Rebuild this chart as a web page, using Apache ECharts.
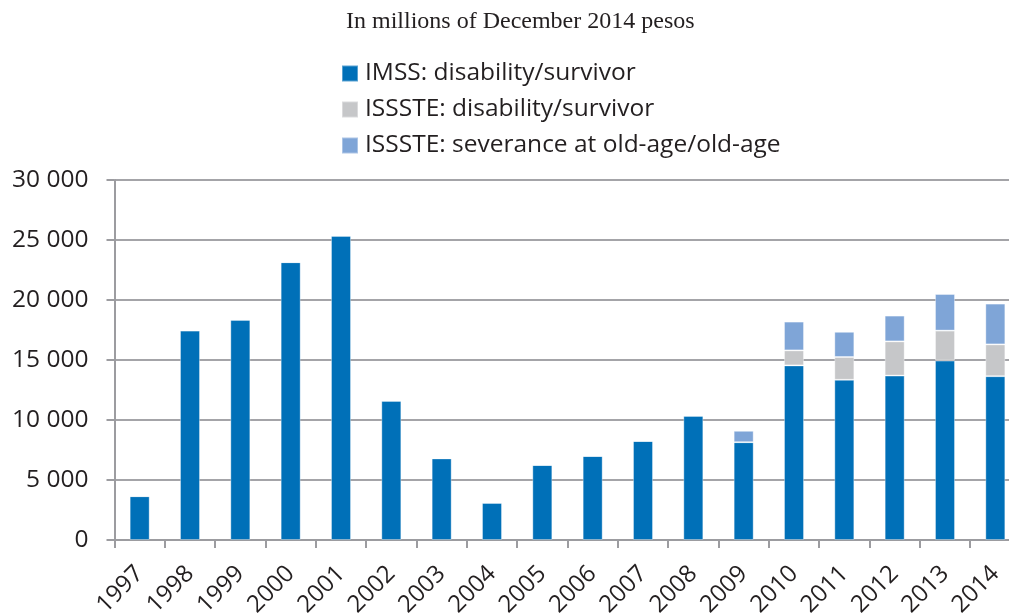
<!DOCTYPE html>
<html>
<head>
<meta charset="utf-8">
<script src="https://cdn.jsdelivr.net/npm/echarts@6/dist/echarts.min.js"></script>
<style>html,body{margin:0;padding:0;background:#fff}#c{width:1009px;height:615px}</style>
</head>
<body>
<div id="c"></div>
<script>
const years = ['1997','1998','1999','2000','2001','2002','2003','2004','2005','2006','2007','2008','2009','2010','2011','2012','2013','2014'];
const imssDisability = [3650,17450,18350,23150,25350,11600,6800,3100,6250,7000,8250,10350,8150,14550,13350,13700,14950,13650];
const isssteDisability = [0,0,0,0,0,0,0,0,0,0,0,0,0,1250,1900,2850,2500,2650];
const isssteSeverance = [0,0,0,0,0,0,0,0,0,0,0,0,950,2400,2100,2150,3050,3400];
const seriesNames = ['IMSS: disability/survivor','ISSSTE: disability/survivor','ISSSTE: severance at old-age/old-age'];
const titleText = 'In millions of December 2014 pesos';

const chart = echarts.init(document.getElementById('c'), null, {renderer:'canvas'});
const fmt = v => { const s = String(v); return s.length > 3 ? s.slice(0, s.length-3) + ' ' + s.slice(-3) : s; };
const barStyle = c => ({color:c, borderColor:'rgba(255,255,255,0.35)', borderWidth:1});
chart.setOption({
  animation:false,
  title:{text:titleText, left:346, top:10, padding:0,
    textStyle:{fontFamily:'Liberation Serif', fontSize:24, fontWeight:'normal', color:'#231f20'}},
  legend:{orient:'vertical', left:341, top:61, padding:0, itemWidth:16, itemHeight:16, itemGap:11,
    icon:'rect', textStyle:{fontFamily:'Open Sans', fontSize:24.5, color:'#231f20', padding:[0,0,0,2]},
    data:seriesNames},
  grid:{left:114.5, top:180, width:906, height:360, containLabel:false, outerBoundsMode:'none'},
  xAxis:{type:'category', data:years,
    axisLine:{lineStyle:{color:'#9c9ca0', width:2}},
    axisTick:{show:true, length:8, lineStyle:{color:'#9c9ca0', width:2}},
    axisLabel:{rotate:45, margin:30, fontFamily:'Open Sans', fontSize:24, color:'#231f20', interval:0}},
  yAxis:{type:'value', min:0, max:30000, interval:5000,
    axisLine:{show:true, lineStyle:{color:'#9c9ca0', width:2}},
    axisTick:{show:true, length:8, lineStyle:{color:'#9c9ca0', width:2}},
    splitLine:{lineStyle:{color:'#a4a4a8', width:2}},
    axisLabel:{formatter:fmt, margin:26, fontFamily:'Open Sans', fontSize:24.5, color:'#231f20'}},
  series:[
    {name:seriesNames[0], type:'bar', stack:'a', barWidth:20, data:imssDisability, itemStyle:barStyle('#0070b8')},
    {name:seriesNames[1], type:'bar', stack:'a', barWidth:20, data:isssteDisability, itemStyle:barStyle('#c6c7c9')},
    {name:seriesNames[2], type:'bar', stack:'a', barWidth:20, data:isssteSeverance, itemStyle:barStyle('#7fa5d7')}
  ]
});
</script>
</body>
</html>
